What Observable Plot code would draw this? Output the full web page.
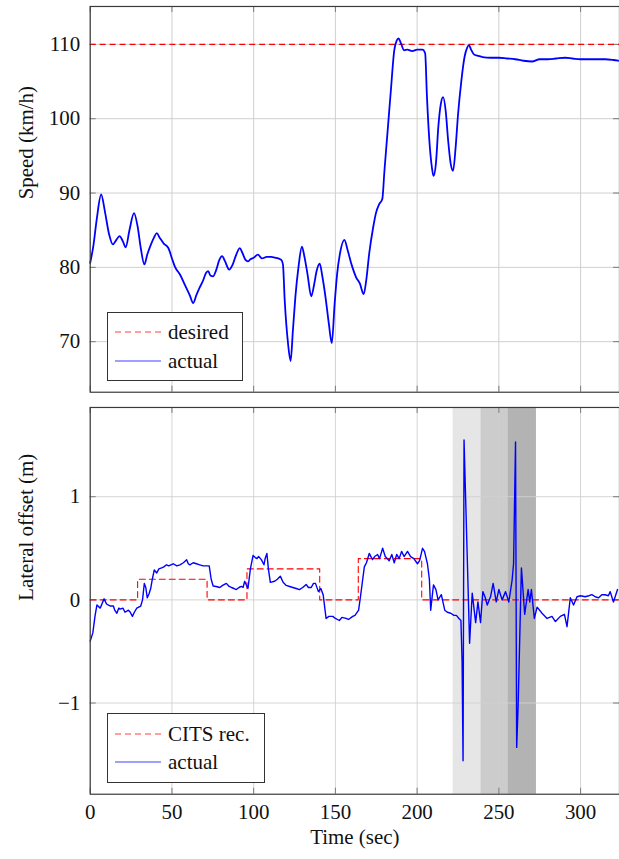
<!DOCTYPE html>
<html>
<head>
<meta charset="utf-8">
<script src="https://cdn.jsdelivr.net/npm/d3@7"></script>
<script src="https://cdn.jsdelivr.net/npm/@observablehq/plot@0.6"></script>
<style>
  html, body { margin: 0; padding: 0; background: #fff; overflow: hidden; }
  #wrap { position: relative; width: 619px; height: 859px; overflow: hidden; font-family: "Liberation Serif", "Times New Roman", Times, "DejaVu Serif", serif; }
  #wrap svg, #wrap svg text { font-family: "Liberation Serif", "Times New Roman", Times, "DejaVu Serif", serif !important; }
  .panel { position: absolute; left: 0; }
  .legend { position: absolute; background: #fff; border: 1px solid #333; box-sizing: border-box; font-size: 21px; color: #111; }
  .legend .row { position: absolute; left: 0; height: 28px; display: flex; align-items: center; }
  .legend svg { display: block; }
  .legend span { margin-left: 7px; line-height: 1; }
</style>
</head>
<body>
<div id="wrap">
  <div id="top" class="panel" style="top:0"></div>
  <div id="bot" class="panel" style="top:400px"></div>
</div>
<script>
// ---------------- DATA ----------------
const xTicks = [0, 50, 100, 150, 200, 250, 300];
const speedTicks = [70, 80, 90, 100, 110];
const lateralTicks = [-1, 0, 1];

const desiredSpeed = 110;

const speedTime = [0, 2, 4, 6.7, 9, 11.5, 13.8, 16, 17.9, 20, 21.7, 24, 26.8, 29, 31, 33.1, 35, 37, 39, 40.7, 42.5, 45, 47.8, 50, 51.8, 55, 58, 61, 63, 65, 67, 69, 71, 72.2, 73.5, 75.2, 77, 79, 80.7, 82.5, 85, 87, 89, 91.5, 93, 95, 96.5, 98, 100, 102.6, 105, 108, 110.8, 113, 115, 116.9, 117.9, 119, 121, 122.6, 124, 125.5, 127.5, 129.5, 131, 133, 135.2, 137, 138.5, 140.4, 142, 144, 146, 147.8, 149.5, 151, 153, 155.5, 157.5, 160, 162.6, 165, 167.3, 169, 170.7, 173.2, 174.8, 176.8, 178.7, 180, 182, 184, 186, 187.5, 188.6, 190, 192, 194, 197, 200, 203.3, 204.9, 206, 207.5, 209, 210, 211.5, 213, 214.5, 215.9, 217.5, 219, 220.5, 222, 223.5, 225, 227, 229, 230.5, 231.7, 233, 235, 236.8, 240, 245, 250, 255, 260, 265, 270.3, 275, 280, 285, 290.7, 295, 300, 305, 310, 315, 320, 323];
const speedActual = [80.6, 83, 86.5, 89.8, 87.5, 84.5, 83.1, 83.7, 84.2, 83.5, 82.7, 85, 87.3, 85.5, 82.5, 80.4, 81.8, 83, 84, 84.6, 84, 83.2, 82.6, 81.2, 80.1, 79, 77.6, 76.2, 75.2, 76.3, 77.3, 78.2, 79.3, 79.5, 78.9, 78.8, 79.6, 81, 81.5, 80.8, 79.7, 80.3, 81.5, 82.6, 82, 81, 80.8, 81.1, 81.3, 81.7, 81.2, 81.4, 81.4, 81.3, 81.2, 81.0, 80.4, 75.5, 69.8, 67.4, 71.5, 76, 80.2, 82.8, 81.5, 79, 76.1, 77.7, 79.5, 80.5, 78.8, 75.9, 72.4, 69.8, 75, 79, 82.1, 83.7, 82.3, 80.3, 78.7, 77.8, 76.4, 78.5, 81.9, 85.5, 87.3, 88.5, 89.2, 93, 98.5, 104, 109.2, 110.5, 110.8, 110.2, 109.2, 109.3, 109.1, 109.3, 109.3, 108.8, 103, 97, 93.5, 92.3, 94, 99, 102, 102.9, 101, 97, 94, 93, 96, 100.5, 105, 108.3, 109.5, 109.9, 109.3, 108.6, 108.5, 108.3, 108.2, 108.2, 108.1, 108.0, 107.8, 107.7, 108.0, 108.0, 108.1, 108.2, 108.1, 108.0, 108.0, 108.0, 108.0, 107.9, 107.8];

const lateralTime = [0, 1.6, 3, 4.1, 6.1, 8.5, 10, 11.2, 12.5, 14.2, 15, 16.3, 17.5, 18.3, 20, 21.3, 23.4, 24.5, 25.8, 27, 28.5, 30.9, 32, 33.1, 34, 34.9, 36, 37, 38, 39.2, 40.7, 42, 43.7, 45, 46.7, 48, 50.8, 53, 54.9, 57, 59, 60, 61, 63, 65, 67, 69.1, 71, 72.8, 74, 75.2, 77, 79.3, 81, 83.3, 85, 86.4, 88, 89.4, 91, 92.5, 93.5, 94.5, 96.5, 98, 99.6, 101, 102, 103, 104.7, 106.3, 107, 108.1, 109, 110.2, 112.8, 114.5, 116.3, 118, 119.9, 122, 124, 126, 128, 130, 132.1, 133.5, 135.2, 136.6, 137.8, 139.6, 141.1, 142.5, 144.3, 146, 148.4, 150, 152.4, 154, 156.5, 158, 160.6, 162, 164.2, 165.5, 167.7, 169, 170.7, 172.7, 174, 175.8, 177, 178.9, 180.5, 182.9, 184.5, 186, 187.5, 189, 190.5, 192, 194.1, 196, 198, 200.2, 201.5, 203.3, 204.5, 206.3, 207.5, 208.3, 210, 211.5, 212.8, 214.8, 216.9, 218.5, 220.6, 222.5, 224, 225.6, 226.8, 227.5, 228.1, 228.7, 232.1, 233.7, 235.8, 237.2, 238.8, 240.2, 241.5, 242.9, 244.9, 246.5, 248.4, 250, 252, 254.1, 256.1, 258.1, 259, 260.2, 260.9, 261.8, 263.8, 265.8, 267.9, 268.9, 269.9, 271.7, 273.4, 276.4, 279.5, 282.5, 284.6, 287.6, 290.1, 291.7, 293.7, 295.7, 297.8, 300, 302.8, 305, 306.9, 309, 311, 313, 315, 317, 318.1, 320.1, 322.6];
const lateralActual = [-0.40, -0.32, -0.15, -0.05, -0.08, 0.01, -0.04, -0.05, -0.06, -0.06, -0.10, -0.13, -0.08, -0.09, -0.08, -0.12, -0.10, -0.12, -0.16, -0.12, -0.08, -0.06, 0.0, 0.16, 0.12, 0.02, 0.06, 0.11, 0.20, 0.29, 0.26, 0.30, 0.31, 0.32, 0.34, 0.33, 0.35, 0.33, 0.34, 0.36, 0.39, 0.35, 0.34, 0.36, 0.35, 0.34, 0.33, 0.33, 0.33, 0.20, 0.135, 0.13, 0.12, 0.14, 0.16, 0.13, 0.12, 0.11, 0.10, 0.12, 0.13, 0.12, 0.18, 0.11, 0.30, 0.43, 0.41, 0.40, 0.42, 0.39, 0.34, 0.40, 0.45, 0.30, 0.17, 0.18, 0.20, 0.23, 0.17, 0.14, 0.13, 0.12, 0.11, 0.10, 0.12, 0.15, 0.12, 0.12, 0.16, 0.16, 0.08, 0.11, 0.05, -0.18, -0.16, -0.16, -0.18, -0.20, -0.17, -0.18, -0.19, -0.16, -0.15, -0.10, 0.05, 0.32, 0.36, 0.45, 0.39, 0.42, 0.44, 0.40, 0.50, 0.42, 0.38, 0.44, 0.36, 0.44, 0.40, 0.47, 0.42, 0.47, 0.42, 0.40, 0.35, 0.38, 0.50, 0.47, 0.35, 0.20, -0.10, 0.145, 0.10, 0.0, 0.05, -0.10, -0.12, -0.13, -0.15, -0.15, -0.18, -0.20, -0.60, -1.56, 1.55, -0.42, 0.065, -0.22, -0.02, -0.22, 0.08, 0.03, -0.05, 0.03, 0.16, -0.02, 0.10, 0.0, 0.08, -0.02, 0.19, 0.35, 1.53, -1.43, -1.02, 0.31, -0.14, 0.10, -0.02, 0.10, -0.18, -0.07, -0.13, -0.18, -0.16, -0.21, -0.16, -0.14, -0.26, 0.02, -0.05, 0.03, 0.04, 0.03, 0.04, 0.05, 0.03, 0.02, 0.05, 0.05, 0.04, 0.08, -0.02, 0.10];

// CITS recommendation (step function, value holds until next change)
const citsTime = [0, 29, 71.5, 95.9, 140.4, 164, 202.8, 324];
const citsValue = [0, 0.2, 0, 0.3, 0, 0.4, 0, 0];

// shaded manoeuvre phases
const shadeStart = [222, 239, 255.5];
const shadeEnd = [239, 255.5, 273];
const shadeFill = ["#e6e6e6", "#cccccc", "#b3b3b3"];

const speedDomain = [63.2, 115.1];
const lateralDomain = [-1.884, 1.865];
const timeDomain = [0, 323.8];

// ---------------- BUILD ----------------
const W = 621, FONT = "'Liberation Serif', 'Times New Roman', Times, 'DejaVu Serif', serif";
const gridColor = "#d0d0d0", frameColor = "#3a3a3a", tickColor = "#7a7a7a";
const fmt = d => d < 0 ? "\u2212" + Math.abs(d) : String(d);

const speedRows = speedTime.map((t, i) => ({t, v: speedActual[i]}));
const latRows = lateralTime.map((t, i) => ({t, v: lateralActual[i]}));
const citsRows = citsTime.map((t, i) => ({t, v: citsValue[i]}));
const shadeRows = shadeStart.map((s, i) => ({s, e: shadeEnd[i], f: shadeFill[i]}));

function innerTicks(yt, innerH, innerW) {
  return [
    Plot.tickX(xTicks, {x: d => d, stroke: tickColor, insetTop: innerH - 6}),
    Plot.tickX(xTicks, {x: d => d, stroke: tickColor, insetBottom: innerH - 6}),
    Plot.tickY(yt, {y: d => d, stroke: tickColor, insetRight: innerW - 6}),
    Plot.tickY(yt, {y: d => d, stroke: tickColor, insetLeft: innerW - 6})
  ];
}

// top panel
const topH = 400, topMT = 6, topMB = 7, ML = 90;
const topPlot = Plot.plot({
  width: W, height: topH,
  marginTop: topMT, marginBottom: topMB, marginLeft: ML, marginRight: 0,
  style: {fontFamily: FONT, fontSize: "21px", color: "#111", background: "transparent", overflow: "visible"},
  x: {domain: timeDomain, axis: null},
  y: {domain: speedDomain, ticks: speedTicks, tickSize: 0, tickPadding: 10, label: null, tickFormat: fmt},
  marks: [
    Plot.ruleX(xTicks, {x: d => d, stroke: gridColor, strokeWidth: 1}),
    Plot.ruleY(speedTicks, {y: d => d, stroke: gridColor, strokeWidth: 1}),
    ...innerTicks(speedTicks, topH - topMT - topMB, W - ML),
    Plot.ruleY([desiredSpeed], {y: d => d, stroke: "#ff0000", strokeWidth: 1.1, strokeDasharray: "6,4"}),
    Plot.line(speedRows, {x: "t", y: "v", stroke: "#0000ff", strokeWidth: 1.8, curve: "monotone-x"}),
    Plot.frame({stroke: frameColor, strokeWidth: 1.2}),
    Plot.text(["Speed (km/h)"], {frameAnchor: "left", text: d => d, rotate: -90, dx: -64, fontSize: 21, fill: "#111"})
  ]
});
document.getElementById("top").appendChild(topPlot);

// bottom panel
const botH = 459, botMT = 7, botMB = 64;
const botPlot = Plot.plot({
  width: W, height: botH,
  marginTop: botMT, marginBottom: botMB, marginLeft: ML, marginRight: 0,
  style: {fontFamily: FONT, fontSize: "21px", color: "#111", background: "transparent", overflow: "visible"},
  x: {domain: timeDomain, ticks: xTicks, tickSize: 0, tickPadding: 10, label: null, tickFormat: fmt},
  y: {domain: lateralDomain, ticks: lateralTicks, tickSize: 0, tickPadding: 10, label: null, tickFormat: fmt},
  marks: [
    Plot.rect(shadeRows, {x1: "s", x2: "e", fill: "f"}),
    Plot.ruleX(xTicks, {x: d => d, stroke: gridColor, strokeWidth: 1, strokeOpacity: 0.9}),
    Plot.ruleY(lateralTicks, {y: d => d, stroke: gridColor, strokeWidth: 1, strokeOpacity: 0.9}),
    ...innerTicks(lateralTicks, botH - botMT - botMB, W - ML),
    Plot.line(citsRows, {x: "t", y: "v", stroke: "#ff0000", strokeWidth: 1.1, strokeDasharray: "6,4", curve: "step-after"}),
    Plot.line(latRows, {x: "t", y: "v", stroke: "#0000ff", strokeWidth: 1.4}),
    Plot.frame({stroke: frameColor, strokeWidth: 1.2}),
    Plot.text(["Lateral offset (m)"], {frameAnchor: "left", text: d => d, rotate: -90, dx: -64, fontSize: 21, fill: "#111"}),
    Plot.text(["Time (sec)"], {frameAnchor: "bottom", text: d => d, dy: 50, fontSize: 21, fill: "#111"})
  ]
});
document.getElementById("bot").appendChild(botPlot);

// legends
function legend(items, box) {
  const div = document.createElement("div");
  div.className = "legend";
  Object.assign(div.style, {left: box.left + "px", top: box.top + "px", width: box.width + "px", height: box.height + "px"});
  items.forEach((it, i) => {
    const row = document.createElement("div");
    row.className = "row";
    row.style.top = (box.rowTops[i]) + "px";
    row.style.left = "7px";
    row.innerHTML = `<svg width="46" height="28"><line x1="0" x2="46" y1="14" y2="14" stroke="${it.color}" stroke-width="1.2" ${it.dash ? `stroke-dasharray="${it.dash}"` : ""} stroke-opacity="0.75"/></svg><span>${it.label}</span>`;
    div.appendChild(row);
  });
  document.getElementById("wrap").appendChild(div);
}
legend([
  {label: "desired", color: "#ff0000", dash: "6,4"},
  {label: "actual", color: "#0000ff"}
], {left: 107, top: 312, width: 136, height: 69, rowTops: [5, 34]});
legend([
  {label: "CITS rec.", color: "#ff0000", dash: "6,4"},
  {label: "actual", color: "#0000ff"}
], {left: 107, top: 713, width: 158, height: 70, rowTops: [6, 34]});
</script>
</body>
</html>
